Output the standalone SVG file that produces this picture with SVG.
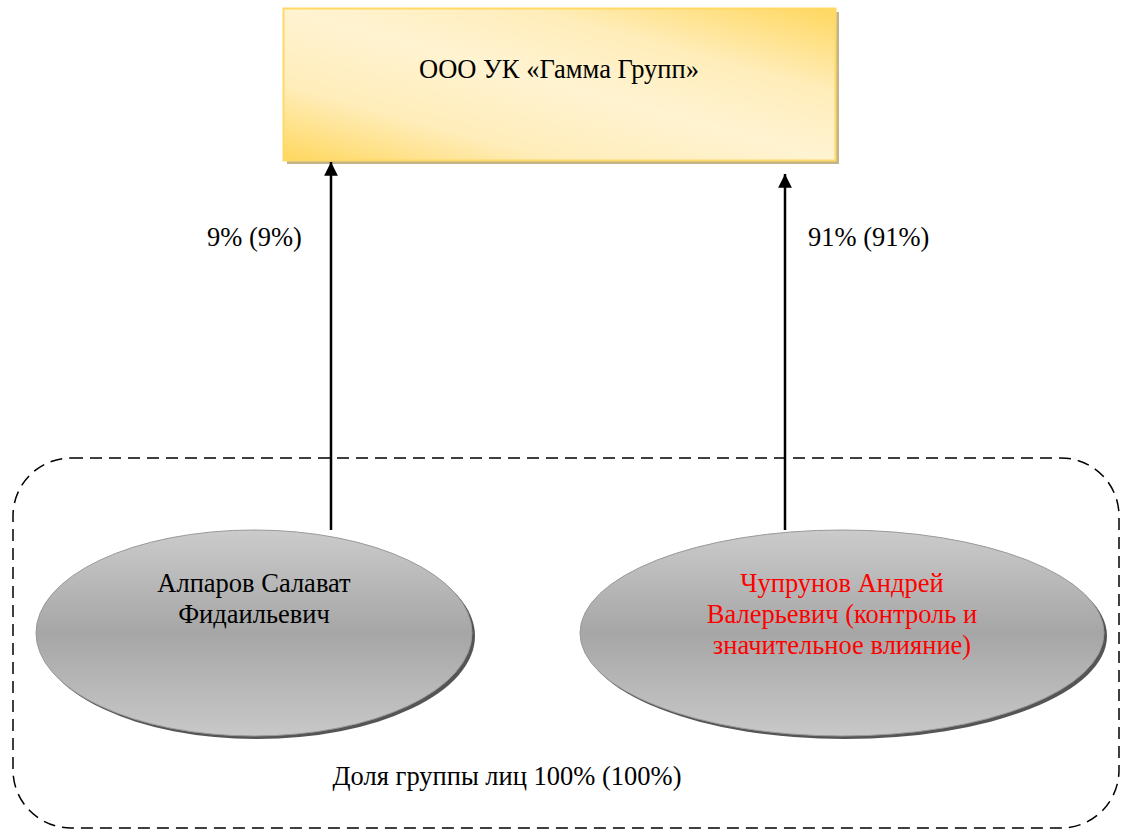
<svg xmlns="http://www.w3.org/2000/svg" width="1122" height="831" viewBox="0 0 1122 831">
<defs>
<linearGradient id="gold" x1="0" y1="1" x2="1" y2="0">
<stop offset="0" stop-color="#FFD75E"/>
<stop offset="0.25" stop-color="#FFEDBA"/>
<stop offset="0.5" stop-color="#FFF3D1"/>
<stop offset="0.72" stop-color="#FFEDBA"/>
<stop offset="1" stop-color="#FFD75E"/>
</linearGradient>
<linearGradient id="grey" x1="0" y1="0" x2="0" y2="1">
<stop offset="0" stop-color="#CBCBCB"/>
<stop offset="0.5" stop-color="#A6A6A6"/>
<stop offset="1" stop-color="#C8C8C8"/>
</linearGradient>
<marker id="arr" viewBox="0 0 10 10" refX="10" refY="5" markerWidth="6.5" markerHeight="5.5" orient="auto" markerUnits="strokeWidth">
<path d="M0,0 L10,5 L0,10 z" fill="#000"/>
</marker>
<style>
.t{font-family:"Liberation Serif","Times New Roman",serif;font-size:26.5px;fill:#000;}
.red{fill:#FF0000;}
</style>
</defs>
<g id="group">
<rect x="13" y="458" width="1106" height="370" rx="58" ry="58" fill="none" stroke="#000" stroke-width="1.5" stroke-dasharray="12,7"/>
<text class="t" x="507" y="785" text-anchor="middle">Доля группы лиц 100% (100%)</text>
</g>
<g id="company">
<rect x="287" y="12" width="552" height="152" fill="#C4B48A"/>
<rect x="283.5" y="8.5" width="552" height="152" fill="url(#gold)" stroke="#FFD966" stroke-width="2"/>
<text class="t" x="559" y="78" text-anchor="middle">ООО УК «Гамма Групп»</text>
</g>
<g id="alparov">
<ellipse cx="257" cy="636" rx="218" ry="103" fill="#555"/>
<ellipse cx="254" cy="633" rx="218" ry="103" fill="url(#grey)" stroke="#999" stroke-width="1"/>
<text class="t" x="254" y="592" text-anchor="middle">Алпаров Салават</text>
<text class="t" x="254" y="623" text-anchor="middle">Фидаильевич</text>
</g>
<g id="chuprunov">
<ellipse cx="845" cy="636" rx="262" ry="103" fill="#555"/>
<ellipse cx="842" cy="633" rx="262" ry="103" fill="url(#grey)" stroke="#999" stroke-width="1"/>
<text class="t red" x="842" y="592" text-anchor="middle">Чупрунов Андрей</text>
<text class="t red" x="842" y="623" text-anchor="middle">Валерьевич (контроль и</text>
<text class="t red" x="842" y="654" text-anchor="middle">значительное влияние)</text>
</g>
<g id="connectors" stroke="#000" stroke-width="2.5" fill="none">
<line x1="331" y1="530" x2="331" y2="162" marker-end="url(#arr)"/>
<line x1="785" y1="530" x2="785" y2="174" marker-end="url(#arr)"/>
</g>
<g id="labels">
<text class="t" x="207" y="246">9% (9%)</text>
<text class="t" x="808" y="246">91% (91%)</text>
</g>
</svg>
